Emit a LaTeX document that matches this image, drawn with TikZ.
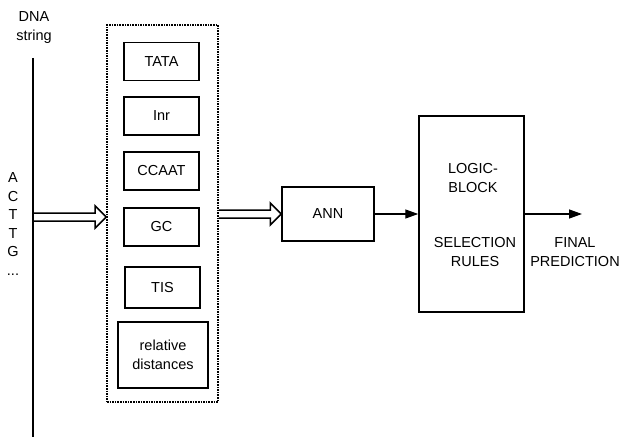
\documentclass[tikz,border=0pt]{standalone}
\usepackage{fontspec}
\setmainfont{Liberation Sans}
\usetikzlibrary{arrows.meta,calc}

\tikzset{
  box/.style={draw, line width=1.5pt, inner sep=0pt, align=center},
  feature/.style={box, minimum width=75pt, minimum height=38pt},
  groupbox/.style={draw, line width=1.6pt, densely dotted, inner sep=0pt},
  flow/.style={line width=1.4pt, -{Triangle[length=13pt,width=9pt]}},
  label/.style={inner sep=0pt, align=center}
}

% outlined (double-line) arrow from #1 to #2, both at the same height
\newcommand{\hollowarrow}[2]{%
  \draw[line width=1.5pt, line join=miter]
    ($(#1)+(0,-4)$) -- ($(#2)+(-11,-4)$) -- ($(#2)+(-11,-11)$) -- (#2)
    -- ($(#2)+(-11,11)$) -- ($(#2)+(-11,4)$) -- ($(#1)+(0,4)$);}

\begin{document}
\begin{tikzpicture}[x=1pt, y=-1pt, font=\fontsize{14.5}{19}\selectfont]
  \useasboundingbox (0,0) rectangle (623,441);

  % input sequence
  \node[label] (dnalabel) at (34,28) {DNA\\string};
  \coordinate (dnatop) at (33,58);
  \coordinate (dnabot) at (33,437);
  \draw[line width=1.8pt] (dnatop) -- (dnabot);
  \node[label, font=\fontsize{14.5}{18.6}\selectfont] (bases) at (13,224) {A\\C\\T\\T\\G\\...};

  % feature detectors
  \node[groupbox, minimum width=111pt, minimum height=377pt] (features) at (162.5,213.5) {};
  \node[feature] (tata) at (161.5,61.5) {TATA};
  \node[feature] (inr) at (161.5,116) {Inr};
  \node[feature] (ccaat) at (161.5,171) {CCAAT};
  \node[feature] (gc) at (161.5,227) {GC};
  \node[feature, minimum height=41pt] (tis) at (162.5,287.5) {TIS};
  \node[box, minimum width=90pt, minimum height=66pt] (reldist) at (163,355) {relative\\distances};

  % network and decision stage
  \node[box, minimum width=92pt, minimum height=54pt] (ann) at (328,214) {ANN};
  \node[box, minimum width=105pt, minimum height=196pt] (logic) at (471.5,214) {};
  \node[label] (logictxt) at (473,178) {LOGIC-\\BLOCK};
  \node[label] (rulestxt) at (475,252) {SELECTION\\RULES};
  \node[label] (final) at (575,252) {FINAL\\PREDICTION};

  % connections
  \coordinate (dnain) at (33,217);
  \coordinate (featin) at (features.west |- dnain);
  \hollowarrow{dnain}{featin}
  \coordinate (featout) at (features.east |- ann.west);
  \hollowarrow{featout}{ann.west}
  \draw[flow] (ann.east) -- (logic.west);
  \coordinate (out) at (582,214);
  \draw[flow] (logic.east) -- (out);
\end{tikzpicture}
\end{document}
